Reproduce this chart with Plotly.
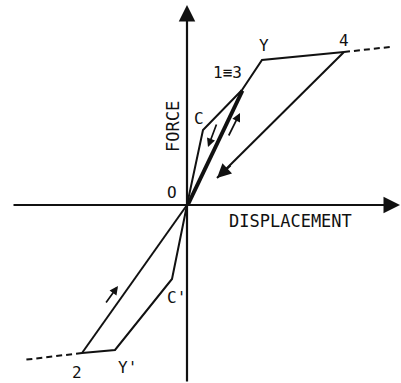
import plotly.graph_objects as go

# Hysteresis loop (displacement, force) in arbitrary units
# initial loading: O -> C -> 1
load_d = [0.0, 1.6, 5.5]
load_f = [0.0, 7.5, 11.5]
# unloading 1 -> O and reloading O -> 3 (same path)
unload1_d = [5.5, 0.0]
unload1_f = [11.5, 0.0]
reload3_d = [0.15, 5.6]
reload3_f = [0.0, 11.4]
# negative loading: O -> C' -> Y' -> 2
neg_d = [0.0, -1.5, -7.2, -10.5]
neg_f = [0.0, -7.4, -14.5, -14.8]
# unloading 2 -> O
unload2_d = [-10.5, 0.0]
unload2_f = [-14.8, 0.0]
# loading beyond 3: 3 -> Y -> 4
yield_d = [5.5, 7.5, 15.7]
yield_f = [11.5, 14.5, 15.3]
# unloading from 4
unload4_d = [15.7, 3.0]
unload4_f = [15.3, 2.7]
# continuation of the envelope
ext_pos_d = [15.7, 20.3]
ext_pos_f = [15.3, 15.8]
ext_neg_d = [-10.5, -16.4]
ext_neg_f = [-14.8, -15.5]

# point labels
lab_text = ["Y", "4", "1\u22613", "C", "O", "C'", "2", "Y'"]
lab_d = [7.7, 15.7, 4.0, 1.2, -1.5, -1.1, -11.0, -6.0]
lab_f = [16.0, 16.5, 13.3, 8.7, 1.3, -9.2, -16.7, -16.2]

# small direction arrows: (tail_d, tail_f, head_d, head_f)
dir_arrows = [
    (3.0, 8.2, 2.1, 5.8),
    (4.1, 6.8, 5.3, 9.2),
    (-8.2, -9.9, -6.9, -8.1),
]

FONT = "DejaVu Sans Mono"
INK = "#111111"

fig = go.Figure()

def seg(d, f, width=2.0, dash="solid"):
    fig.add_trace(go.Scatter(x=d, y=f, mode="lines",
                             line=dict(color=INK, width=width, dash=dash),
                             hoverinfo="skip", showlegend=False))

seg(load_d, load_f)
seg(unload1_d, unload1_f, width=2.6)
seg(reload3_d, reload3_f, width=2.6)
seg(neg_d, neg_f)
seg(unload2_d, unload2_f)
seg(yield_d, yield_f)
seg(unload4_d, unload4_f)
seg(ext_pos_d, ext_pos_f, dash="6px,4px")
seg(ext_neg_d, ext_neg_f, dash="6px,4px")

annotations = []

def arrow(tail_d, tail_f, head_d, head_f, size=1.0, width=2.0):
    annotations.append(dict(x=head_d, y=head_f, ax=tail_d, ay=tail_f,
                            xref="x", yref="y", axref="x", ayref="y",
                            text="", showarrow=True, arrowhead=2,
                            arrowsize=size, arrowwidth=width,
                            arrowcolor=INK))

# coordinate axes
arrow(-17.5, 0.0, 21.3, 0.0, size=1.5, width=2.2)
arrow(0.0, -17.8, 0.0, 20.0, size=1.5, width=2.2)
# head of the unloading branch from 4
arrow(4.5, 4.1, unload4_d[1], unload4_f[1], size=1.4, width=2.0)
for t_d, t_f, h_d, h_f in dir_arrows:
    arrow(t_d, t_f, h_d, h_f, size=1.0, width=1.7)

for t, d, f in zip(lab_text, lab_d, lab_f):
    annotations.append(dict(x=d, y=f, xref="x", yref="y", text=t,
                            showarrow=False,
                            font=dict(family=FONT, size=16, color=INK)))

annotations.append(dict(x=10.3, y=-1.6, xref="x", yref="y",
                        text="DISPLACEMENT", showarrow=False,
                        font=dict(family=FONT, size=17, color=INK)))
annotations.append(dict(x=-1.4, y=7.8, xref="x", yref="y",
                        text="FORCE", showarrow=False, textangle=-90,
                        font=dict(family=FONT, size=17, color=INK)))

fig.update_layout(
    width=401, height=383,
    margin=dict(l=0, r=0, t=0, b=0),
    paper_bgcolor="white", plot_bgcolor="white",
    xaxis=dict(range=[-18.7, 21.4], visible=False, fixedrange=True),
    yaxis=dict(range=[-17.8, 20.5], visible=False, fixedrange=True),
    annotations=annotations,
    showlegend=False,
)

fig.write_html("out.html")
